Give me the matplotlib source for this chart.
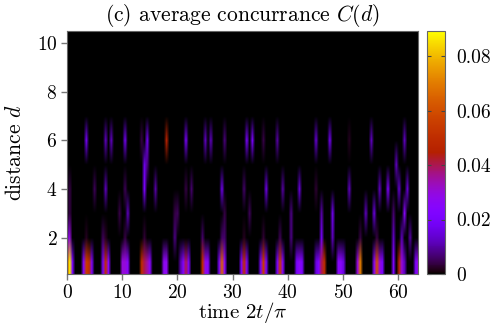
import numpy as np
import matplotlib
matplotlib.use("Agg")
import matplotlib.pyplot as plt

plt.rcParams['font.family'] = ['cmr10', 'DejaVu Sans']
plt.rcParams['mathtext.fontset'] = 'cm'
plt.rcParams['axes.formatter.use_mathtext'] = True

# peaks, time in units of 2t/pi, grid step 0.5
t_d1 = [0, 0.5, 1, 3, 3.5, 4, 4.5, 6.5, 7, 7.5, 10, 10.5, 11, 13.5, 14, 14.5, 15, 17.5, 18,
        20.5, 21, 21.5, 22, 24.5, 25, 25.5, 27.5, 28, 28.5, 31.5, 32, 32.5, 35, 35.5, 36,
        38, 38.5, 39, 41.5, 42, 42.5, 45, 45.5, 46, 46.5, 49, 49.5, 50, 52.5, 53, 55.5, 56, 56.5, 57,
        59, 60, 60.5, 61, 63, 63.5]
c_d1 = [.05, .088, .02, .025, .055, .05, .02, .02, .05, .025, .03, .03, .025, .05, .04, .035, .025, .027, .027,
        .01, .022, .04, .02, .05, .028, .025, .02, .065, .025, .02, .05, .02, .02, .055, .02,
        .02, .055, .022, .02, .026, .02, .015, .022, .04, .05, .025, .025, .015, .03, .07, .025, .06, .03, .02,
        .022, .045, .03, .012, .022, .03]

t_d2 = [0, 0.5, 3.5, 6.5, 7, 10.5, 14, 19.5, 24.5, 28, 28.5, 32, 35.5, 38.5, 40.5, 46, 48, 53, 56, 59, 60.5, 62]
c_d2 = [.012, .03, .002, .005, .002, .004, .003, .008, .006, .006, .006, .002, .003, .005, .008, .018, .012, .004,
        .004, .012, .012, .01]

t_d3 = [0.5, 9.5, 11, 19.5, 20, 28.5, 33, 40.5, 46, 48, 54, 55.5, 59, 61]
c_d3 = [.004, .004, .012, .004, .005, .004, .005, .008, .01, .017, .012, .015, .006, .025]

t_d4 = [0.5, 5, 7, 10.5, 14, 16, 21.5, 22.5, 28, 32, 36, 39, 42, 45, 51, 56.5, 58, 60, 61.5]
c_d4 = [.004, .005, .012, .005, .02, .01, .004, .006, .017, .006, .016, .01, .014, .003, .012, .012, .022, .014, .014]

t_d5 = [14, 14.5, 59.5]
c_d5 = [.016, .008, .012]

t_d6 = [3.5, 7, 8, 10.5, 13.5, 14.5, 18, 21.5, 25, 26, 28.5, 32.5, 33.5, 35.5, 38, 45, 47.5, 51, 55, 61]
c_d6 = [.018, .012, .012, .018, .004, .018, .045, .02, .012, .012, .007, .02, .02, .004, .01, .014, .018, .002, .012, .012]

dist_rows = [(1, t_d1, c_d1), (2, t_d2, c_d2), (3, t_d3, c_d3), (4, t_d4, c_d4), (5, t_d5, c_d5), (6, t_d6, c_d6)]

cmax = 0.0892
cticks = [0, 0.02, 0.04, 0.06, 0.08]
cticklabels = ['0', '0.02', '0.04', '0.06', '0.08']

dt = 0.5
n_t = 129
conc = np.zeros((10, n_t))
for d, ts, cs in dist_rows:
    for t, c in zip(ts, cs):
        conc[d - 1, int(round(t / dt))] = c

W, H = 499, 332
fig = plt.figure(figsize=(W / 100, H / 100), dpi=100)
ax = fig.add_axes([67 / W, 1 - 274 / H, (418 - 67) / W, (274 - 31) / H])
cax = fig.add_axes([427 / W, 1 - 274 / H, (445 - 427) / W, (274 - 31) / H])

# colours fade through dark shades in the reference, so blend in rgba not in data
im = ax.imshow(conc, origin='lower', aspect='auto', cmap='gnuplot', vmin=0, vmax=cmax,
               extent=[-dt / 2, (n_t - 0.5) * dt, 0.5, 10.5],
               interpolation='bilinear', interpolation_stage='rgba')
ax.set_xlim(0, 63.6)
ax.set_ylim(0.5, 10.5)
ax.set_xticks([0, 10, 20, 30, 40, 50, 60])
ax.set_yticks([2, 4, 6, 8, 10])
ax.tick_params(labelsize=14, length=4, width=1, color='#777777', pad=3)
for s in ax.spines.values():
    s.set_color('#666666')
ax.set_title(r'(c) average concurrance $C(d)$', fontsize=15.5, pad=7)
ax.set_xlabel(r'time $2t/\pi$', fontsize=15, labelpad=-1)
ax.set_ylabel(r'distance $d$', fontsize=15.5, labelpad=8)

cb = fig.colorbar(im, cax=cax)
cb.set_ticks(cticks)
cb.set_ticklabels(cticklabels)
cax.tick_params(labelsize=14, length=3, width=0.8, direction='in', left=True, right=True, color='#444444', pad=8)
cb.outline.set_edgecolor('#666666')

fig.savefig('out.png', dpi=100)
